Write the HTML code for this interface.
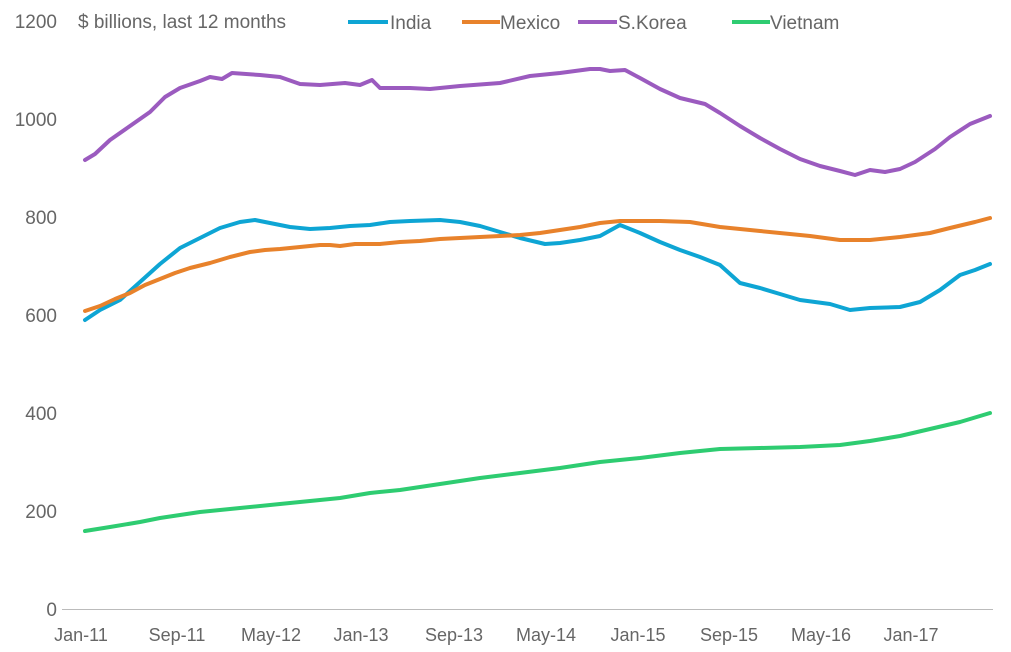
<!DOCTYPE html>
<html><head><meta charset="utf-8"><style>
html,body{margin:0;padding:0;background:#fff;}
svg{display:block;font-family:"Liberation Sans",sans-serif;}
text{fill:#666;}
</style></head><body>
<svg width="1011" height="652" viewBox="0 0 1011 652">
<g font-size="19" text-anchor="end">
<text x="57" y="616">0</text>
<text x="57" y="518">200</text>
<text x="57" y="420">400</text>
<text x="57" y="322">600</text>
<text x="57" y="224">800</text>
<text x="57" y="126">1000</text>
<text x="57" y="28">1200</text>
</g>
<line x1="62" y1="609.5" x2="993" y2="609.5" stroke="#bbb" stroke-width="1"/>
<g font-size="18" text-anchor="middle">
<text x="81" y="641">Jan-11</text>
<text x="177" y="641">Sep-11</text>
<text x="271" y="641">May-12</text>
<text x="361" y="641">Jan-13</text>
<text x="454" y="641">Sep-13</text>
<text x="546" y="641">May-14</text>
<text x="638" y="641">Jan-15</text>
<text x="729" y="641">Sep-15</text>
<text x="821" y="641">May-16</text>
<text x="911" y="641">Jan-17</text>
</g>
<text x="78" y="28" font-size="19">$ billions, last 12 months</text>
<line x1="348" y1="22" x2="388" y2="22" stroke="#0ea5d4" stroke-width="4"/>
<text x="390" y="29" font-size="19">India</text>
<line x1="462" y1="22" x2="500" y2="22" stroke="#e8822b" stroke-width="4"/>
<text x="500" y="29" font-size="19">Mexico</text>
<line x1="578" y1="22" x2="617" y2="22" stroke="#9b5bbf" stroke-width="4"/>
<text x="618" y="29" font-size="19">S.Korea</text>
<line x1="732" y1="22" x2="770" y2="22" stroke="#2ecc71" stroke-width="4"/>
<text x="770" y="29" font-size="19">Vietnam</text>
<g fill="none" stroke-width="4" stroke-linejoin="round" stroke-linecap="round">
<polyline stroke="#2ecc71" points="85,531 110,527 140,522 160,518 200,512 240,508 280,504 340,498 370,493 400,490 440,484 480,478 520,473 560,468 600,462 640,458 680,453 720,449 760,448 800,447 840,445 870,441 900,436 930,429 960,422 990,413"/>
<polyline stroke="#0ea5d4" points="85,320 100,310 120,300 140,282 160,264 180,248 200,238 220,228 240,222 255,220 270,223 290,227 310,229 330,228 350,226 370,225 390,222 410,221 440,220 460,222 480,226 500,232 520,238 545,244 560,243 580,240 600,236 620,225 640,233 660,242 680,250 700,257 720,265 740,283 760,288 780,294 800,300 830,304 850,310 870,308 900,307 920,302 940,290 960,275 975,270 990,264"/>
<polyline stroke="#e8822b" points="85,311 100,306 115,299 130,293 145,285 160,279 175,273 190,268 210,263 230,257 250,252 265,250 280,249 300,247 320,245 330,245 340,246 355,244 380,244 400,242 420,241 440,239 460,238 480,237 500,236 520,235 540,233 560,230 580,227 600,223 620,221 640,221 660,221 690,222 720,227 760,231 790,234 810,236 840,240 870,240 900,237 930,233 950,228 975,222 990,218"/>
<polyline stroke="#9b5bbf" points="85,160 95,154 110,140 130,126 150,112 165,97 180,88 200,81 210,77 222,79 232,73 260,75 280,77 300,84 320,85 345,83 360,85 372,80 380,88 410,88 430,89 460,86 500,83 530,76 560,73 590,69 600,69 610,71 625,70 640,78 660,89 680,98 705,104 720,113 740,126 760,138 780,149 800,159 820,166 840,171 855,175 870,170 885,172 900,169 915,162 935,149 950,137 970,124 990,116"/>
</g>
</svg>
</body></html>
